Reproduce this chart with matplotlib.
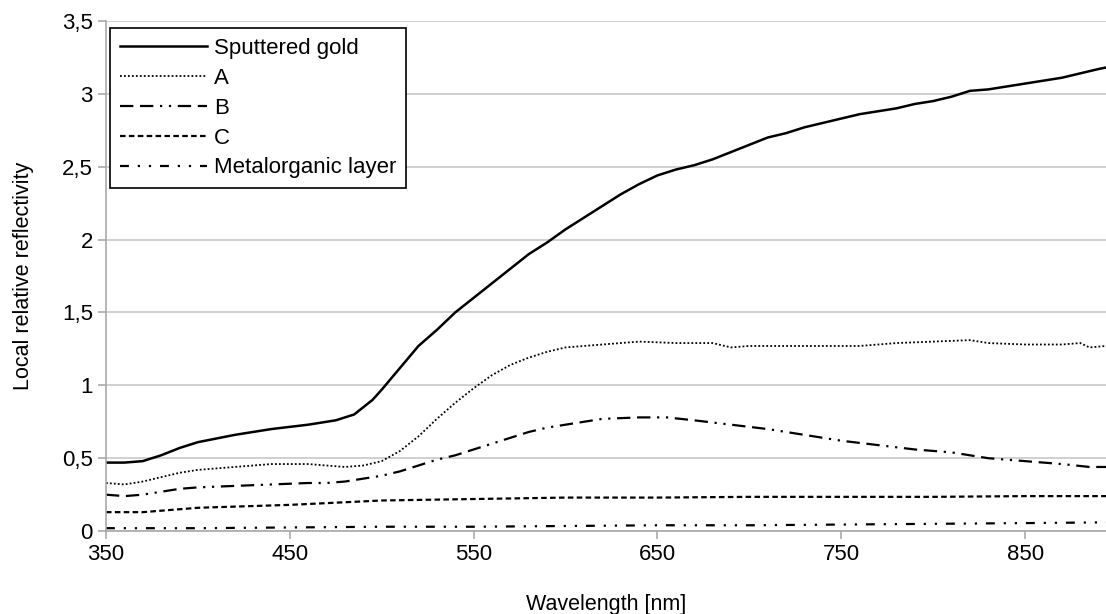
import matplotlib.pyplot as plt
from matplotlib.ticker import FuncFormatter

plt.rcParams['font.family'] = ['Liberation Sans', 'DejaVu Sans']

# wavelength grids and readings per curve
wl_gold = [350, 360, 370, 380, 390, 400, 420, 440, 460, 475, 485, 495, 500, 510, 520,
           530, 540, 550, 560, 570, 580, 590, 600, 610, 620, 630, 640, 650, 660, 670,
           680, 690, 700, 710, 720, 730, 740, 750, 760, 770, 780, 790, 800, 810, 820,
           830, 840, 850, 860, 870, 880, 890, 894]
gold = [0.47, 0.47, 0.48, 0.52, 0.57, 0.61, 0.66, 0.70, 0.73, 0.76, 0.80, 0.90, 0.97,
        1.12, 1.27, 1.38, 1.50, 1.60, 1.70, 1.80, 1.90, 1.98, 2.07, 2.15, 2.23, 2.31,
        2.38, 2.44, 2.48, 2.51, 2.55, 2.60, 2.65, 2.70, 2.73, 2.77, 2.80, 2.83, 2.86,
        2.88, 2.90, 2.93, 2.95, 2.98, 3.02, 3.03, 3.05, 3.07, 3.09, 3.11, 3.14, 3.17, 3.18]

wl_a = [350, 360, 370, 380, 390, 400, 420, 440, 460, 470, 480, 490, 500, 510, 520, 530,
        540, 550, 560, 570, 580, 590, 600, 620, 640, 660, 680, 690, 700, 720, 740, 760,
        780, 800, 820, 830, 850, 870, 880, 885, 894]
a = [0.33, 0.32, 0.34, 0.37, 0.40, 0.42, 0.44, 0.46, 0.46, 0.45, 0.44, 0.45, 0.48,
     0.55, 0.65, 0.77, 0.88, 0.98, 1.07, 1.14, 1.19, 1.23, 1.26, 1.28, 1.30, 1.29,
     1.29, 1.26, 1.27, 1.27, 1.27, 1.27, 1.29, 1.30, 1.31, 1.29, 1.28, 1.28, 1.29,
     1.26, 1.27]

wl_b = [350, 360, 370, 380, 390, 400, 420, 440, 460, 470, 480, 490, 500, 510, 520, 530,
        540, 550, 560, 570, 580, 590, 600, 620, 640, 655, 670, 690, 710, 730, 750, 770,
        790, 810, 830, 850, 870, 885, 894]
b = [0.25, 0.24, 0.25, 0.27, 0.29, 0.30, 0.31, 0.32, 0.33, 0.33, 0.34, 0.36, 0.38,
     0.41, 0.45, 0.49, 0.52, 0.56, 0.60, 0.64, 0.68, 0.71, 0.73, 0.77, 0.78, 0.78,
     0.76, 0.73, 0.70, 0.66, 0.62, 0.59, 0.56, 0.54, 0.50, 0.48, 0.46, 0.44, 0.44]

wl_c = [350, 370, 400, 450, 500, 550, 600, 650, 700, 750, 800, 850, 894]
c = [0.13, 0.13, 0.16, 0.18, 0.21, 0.22, 0.23, 0.23, 0.235, 0.235, 0.235, 0.24, 0.24]

wl_m = [350, 400, 450, 500, 550, 600, 650, 700, 750, 800, 850, 894]
metal = [0.02, 0.02, 0.025, 0.03, 0.03, 0.035, 0.04, 0.04, 0.045, 0.05, 0.055, 0.06]

xticks = [350, 450, 550, 650, 750, 850]
yticks = [0, 0.5, 1, 1.5, 2, 2.5, 3, 3.5]

fig = plt.figure(figsize=(11.06, 6.14), dpi=100)
ax = fig.add_axes([0.0958, 0.135, 0.9042, 0.831])

ax.plot(wl_gold, gold, color='black', lw=1.8, ls='-', label='Sputtered gold')
ax.plot(wl_a, a, color='black', lw=1.3, ls=(0, (1, 1.2)), label='A')
ax.plot(wl_b, b, color='black', lw=1.6, ls=(0, (6, 3, 6, 3, 1, 3, 1, 3)), label='B')
ax.plot(wl_c, c, color='black', lw=1.6, ls=(0, (2.5, 1.5)), label='C')
ax.plot(wl_m, metal, color='black', lw=1.6, ls=(0, (4, 4, 1, 4, 1, 4)), label='Metalorganic layer')

ax.set_xlim(350, 894)
ax.set_ylim(0, 3.5)
ax.set_xticks(xticks)
ax.set_yticks(yticks)
fmt = FuncFormatter(lambda v, p: ('%g' % v).replace('.', ','))
ax.yaxis.set_major_formatter(fmt)
ax.grid(axis='y', color='#c8c8c8', lw=1.2)
ax.set_axisbelow(True)

for s in ['top', 'right']:
    ax.spines[s].set_visible(False)
for s in ['left', 'bottom']:
    ax.spines[s].set_color('#aaaaaa')
    ax.spines[s].set_linewidth(1.2)
ax.tick_params(colors='#aaaaaa', labelcolor='black', labelsize=16, length=6, width=1.2)
ax.tick_params(axis='x', pad=3)

ax.set_xlabel('Wavelength [nm]', fontsize=15.5, labelpad=21)
ax.set_ylabel('Local relative reflectivity', fontsize=15.5, labelpad=20)

leg = ax.legend(loc='upper left', bbox_to_anchor=(0.0, 0.995), fontsize=16,
                handlelength=3.9, handletextpad=0.3, labelspacing=0.4,
                borderpad=0.45, fancybox=False, framealpha=1, edgecolor='black',
                borderaxespad=0.2)
leg.get_frame().set_linewidth(1.2)

fig.savefig('out.png', dpi=100)
